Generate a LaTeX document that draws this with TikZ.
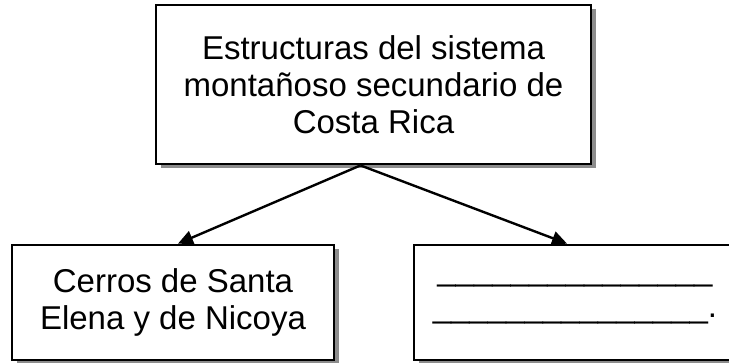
\documentclass[tikz,border=0pt]{standalone}
\usepackage{fontspec}
\setmainfont{Liberation Sans}
\usetikzlibrary{shadows,arrows.meta,calc}
\begin{document}
\begin{tikzpicture}[x=1pt,y=1pt,
  box/.style={draw=black, line width=2.8pt, fill=white, align=center,
    inner sep=0pt, font=\fontsize{33}{37}\selectfont,
    drop shadow={shadow xshift=4.5pt, shadow yshift=-4.5pt, fill=black!45, opacity=1}},
  arr/.style={line width=2.4pt, -{Triangle[length=15pt,width=14pt]}}]
\useasboundingbox (0,0) rectangle (729,362);
\node[box, minimum width=435pt, minimum height=159pt] (top) at (373.5,277.5)
  {Estructuras del sistema\\montañoso secundario de\\Costa Rica};
\node[box, minimum width=322pt, minimum height=115pt] (left) at (173,59.5)
  {Cerros de Santa\\Elena y de Nicoya};
\node[box, minimum width=322pt, minimum height=115pt] (right) at (575,59.5)
  {\_\_\_\_\_\_\_\_\_\_\_\_\_\_\_\\\_\_\_\_\_\_\_\_\_\_\_\_\_\_\_.};
\coordinate (apex) at ($(top.south)+(-13,0)$);
\draw[arr] (apex) -- ($(left.north)+(5,0)$);
\draw[arr] (apex) -- ($(right.north)+(-8,0)$);
\end{tikzpicture}
\end{document}
